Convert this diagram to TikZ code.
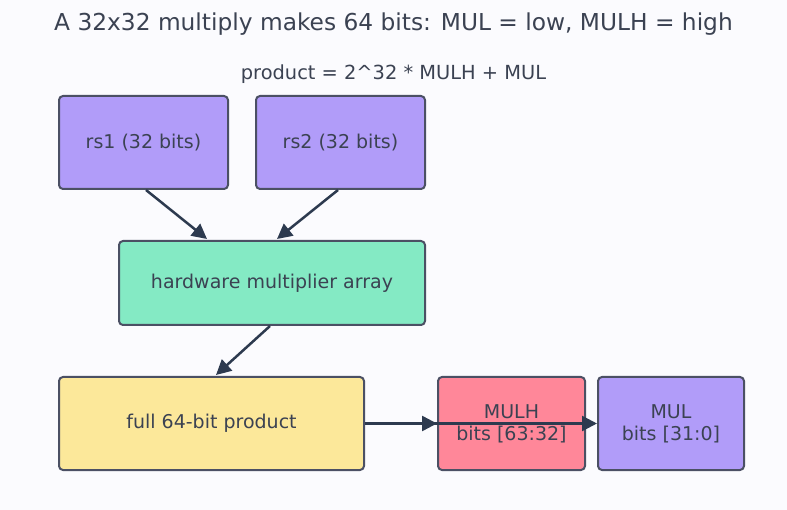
\documentclass[tikz,border=0pt]{standalone}
\usepackage{fontspec}
\setmainfont{DejaVu Sans}
\usetikzlibrary{arrows.meta}
\definecolor{bg}{HTML}{FBFBFE}
\definecolor{purp}{HTML}{B19CF9}
\definecolor{grn}{HTML}{84EAC4}
\definecolor{yel}{HTML}{FCE89A}
\definecolor{pnk}{HTML}{FF8799}
\definecolor{bord}{HTML}{4B5064}
\definecolor{arr}{HTML}{2D3A4F}
\definecolor{txt}{HTML}{3B4252}
\tikzset{
  box/.style={draw=bord, line width=2pt, rounded corners=4pt, text=txt, font=\fontsize{19}{22}\selectfont, align=center, inner sep=0pt},
  conn/.style={draw=arr, line width=2.5pt, -{Triangle[length=15pt,width=15pt]}},
}
\begin{document}
\begin{tikzpicture}[x=1pt,y=-1pt]
\fill[bg] (0,0) rectangle (787,510);
\useasboundingbox (0,0) rectangle (787,510);
\node[text=txt, font=\fontsize{23.3}{27}\selectfont] (title) at (393.5,24) {A 32x32 multiply makes 64 bits: MUL = low, MULH = high};
\node[text=txt, font=\fontsize{19.4}{23}\selectfont] (sub) at (393.5,74) {product = 2\^{}32 * MULH + MUL};
\node[box, fill=purp, minimum width=169pt, minimum height=93pt] (rs1) at (143.5,142.5) {rs1 (32 bits)};
\node[box, fill=purp, minimum width=169pt, minimum height=93pt] (rs2) at (340.5,142.5) {rs2 (32 bits)};
\node[box, fill=grn, minimum width=306pt, minimum height=84pt] (hw) at (272,283) {hardware multiplier array};
\node[box, fill=yel, minimum width=305pt, minimum height=93pt] (full) at (211.5,423.5) {full 64-bit product};
\node[box, fill=pnk, minimum width=147pt, minimum height=93pt] (mulh) at (511.5,423.5) {MULH\\bits [63:32]};
\node[box, fill=purp, minimum width=146pt, minimum height=93pt] (mul) at (671,423.5) {MUL\\bits [31:0]};
\draw[conn] (146,190) -- (207,239);
\draw[conn] (338,190) -- (277,239);
\draw[conn] (270,326) -- (216,375);
\draw[conn] (full.east) -- (mulh.west);
\draw[conn] (full.east) -- (mul.west);
\end{tikzpicture}
\end{document}
